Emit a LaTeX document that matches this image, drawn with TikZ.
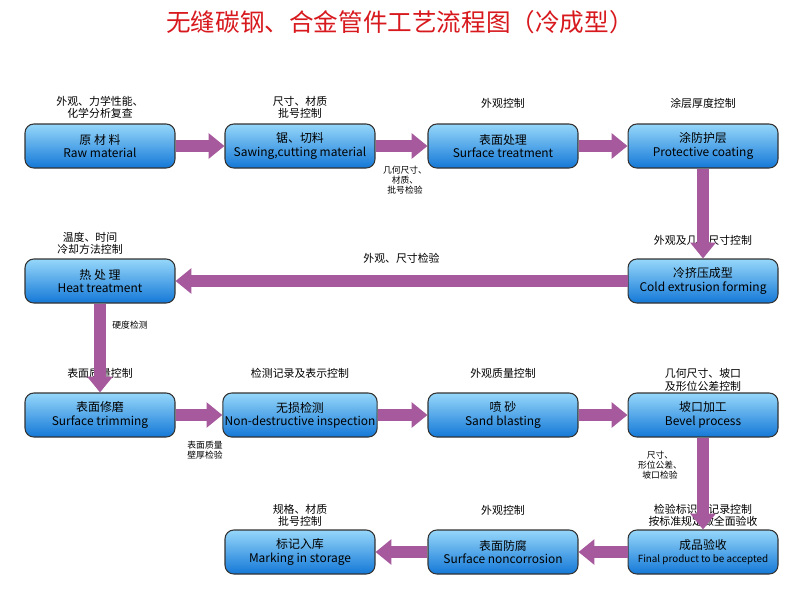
\documentclass[tikz,border=0pt]{standalone}
\usepackage{fontspec}
\setmainfont{Noto Sans CJK SC}
\usetikzlibrary{arrows.meta}
\definecolor{boxtop}{RGB}{150,215,250}
\definecolor{boxbot}{RGB}{20,120,215}
\definecolor{arrowpurple}{RGB}{150,60,140}
\definecolor{titlered}{RGB}{215,25,30}
\tikzset{
  procbox/.style = {rectangle, rounded corners = 5pt, draw = black!80, line width = 0.6pt,
    top color = boxtop, bottom color = boxbot, minimum width = 3cm, minimum height = 0.88cm,
    align = center, font = \fontsize{6.8}{7.6}\selectfont, inner sep = 1pt},
  ctrlnote/.style = {align = center, font = \fontsize{6.2}{7}\selectfont},
  checknote/.style = {align = center, font = \fontsize{5}{5.8}\selectfont},
  flow/.style = {arrowpurple!85, line width = 7pt, -{Triangle[width = 14pt, length = 9pt]}}
}
\begin{document}
\begin{tikzpicture}[x = 0.02cm, y = -0.02cm]
\useasboundingbox (0,0) rectangle (800,609);
\node[text = titlered, font = \fontsize{14}{16}\selectfont] (title) at (400,22) {无缝碳钢、合金管件工艺流程图（冷成型）};
% row 1
\node[procbox] (raw) at (100,146) {原 材 料\\Raw material};
\node[procbox] (saw) at (300,146) {锯、切料\\Sawing,cutting material};
\node[procbox] (surf) at (503,146) {表面处理\\Surface treatment};
\node[procbox] (coat) at (703,146) {涂防护层\\Protective coating};
\node[ctrlnote] (n1) at (100,107) {外观、力学性能、\\化学分析复查};
\node[ctrlnote] (n2) at (300,107) {尺寸、材质\\批号控制};
\node[ctrlnote] (n3) at (503,103) {外观控制};
\node[ctrlnote] (n4) at (703,103) {涂层厚度控制};
% row 2
\node[procbox] (heat) at (100,281) {热 处 理\\Heat treatment};
\node[procbox] (cold) at (703,281) {冷挤压成型\\Cold extrusion forming};
\node[ctrlnote] (n5) at (90,243) {温度、时间\\冷却方法控制};
\node[ctrlnote] (n6) at (703,240) {外观及几何尺寸控制};
% row 3
\node[procbox] (trim) at (100,415) {表面修磨\\Surface trimming};
\node[procbox] (ndt) at (300,415) {无损检测\\Non-destructive inspection};
\node[procbox] (sand) at (503,415) {喷 砂\\Sand blasting};
\node[procbox] (bevel) at (703,415) {坡口加工\\Bevel process};
\node[ctrlnote] (n7) at (100,373) {表面质量控制};
\node[ctrlnote] (n8) at (300,373) {检测记录及表示控制};
\node[ctrlnote] (n9) at (503,373) {外观质量控制};
\node[ctrlnote] (n10) at (703,380) {几何尺寸、坡口\\及形位公差控制};
% row 4
\node[procbox] (store) at (300,552) {标记入库\\Marking in storage};
\node[procbox] (anti) at (503,552) {表面防腐\\Surface noncorrosion};
\node[procbox] (final) at (703,552) {成品验收\\{\fontsize{5.6}{7}\selectfont Final product to be accepted}};
\node[ctrlnote] (n11) at (300,515) {规格、材质\\批号控制};
\node[ctrlnote] (n12) at (503,510) {外观控制};
\node[ctrlnote] (n13) at (703,515) {检验标识、记录控制\\按标准规定做全面验收};
% arrows
\draw[flow] (raw) -- (saw);
\draw[flow] (saw) -- (surf);
\draw[flow] (surf) -- (coat);
\draw[flow] (coat) -- (cold);
\draw[flow] (cold) -- node[above = 3pt, ctrlnote, black] {外观、尺寸检验} (heat);
\draw[flow] (heat) -- (trim);
\draw[flow] (trim) -- (ndt);
\draw[flow] (ndt) -- (sand);
\draw[flow] (sand) -- (bevel);
\draw[flow] (bevel) -- (final);
\draw[flow] (final) -- (anti);
\draw[flow] (anti) -- (store);
\node[checknote] (c1) at (405,180) {几何尺寸、\\材质、\\批号检验};
\node[checknote] (c2) at (130,325) {硬度检测};
\node[checknote] (c3) at (205,450) {表面质量\\壁厚检验};
\node[checknote] (c4) at (660,465) {尺寸、\\形位公差、\\坡口检验};
\end{tikzpicture}
\end{document}
